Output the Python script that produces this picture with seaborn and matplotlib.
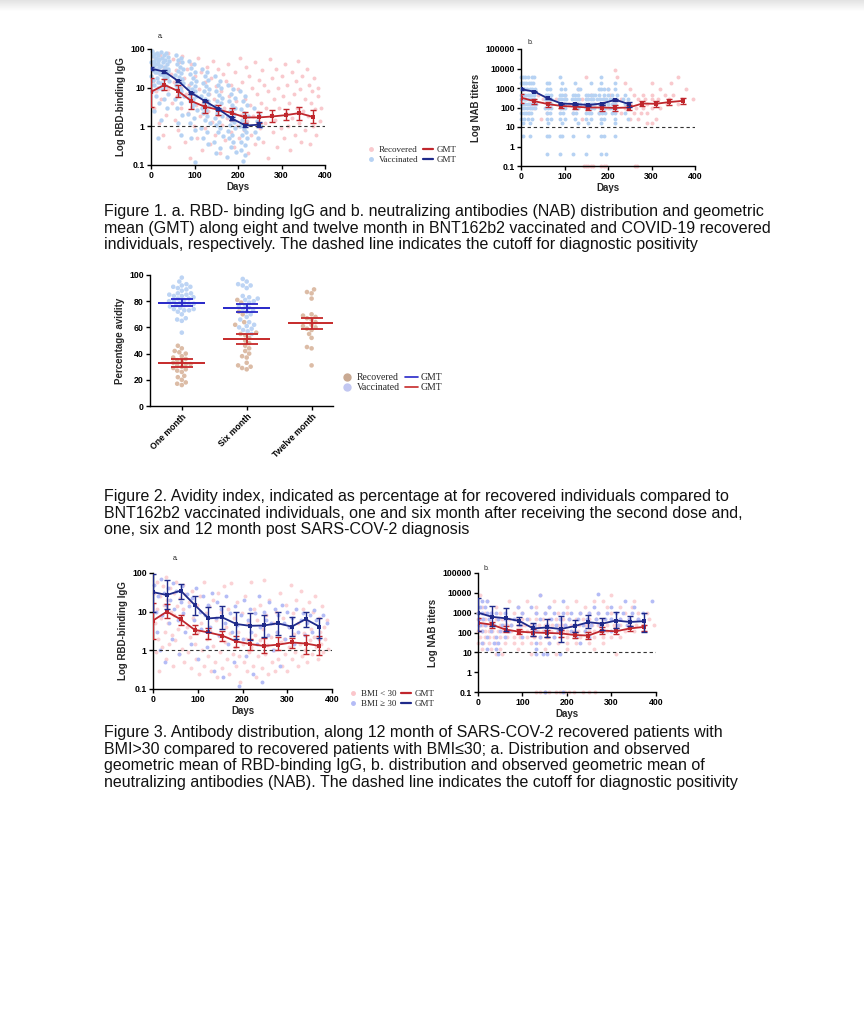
import numpy as np
import pandas as pd
import seaborn as sns
import matplotlib.pyplot as plt
from matplotlib.lines import Line2D
from matplotlib.ticker import NullLocator

# ---------------- data ----------------
visit_days = [0, 31, 62, 93, 124, 155, 186, 217, 248, 279, 310, 341, 372]

# Fig 1a - RBD-binding IgG, GMT with 95% CI
vac_igg_gmt = [31, 26, 15, 7.3, 4.5, 2.8, 1.6, 1.05, 1.1]
vac_igg_lo = [28, 24, 14, 6.8, 4.2, 2.6, 1.5, 0.98, 0.95]
vac_igg_hi = [34, 28, 16, 7.8, 4.8, 3.0, 1.7, 1.12, 1.3]
rec_igg_gmt = [7.8, 11.8, 8.2, 4.5, 3.2, 2.7, 2.2, 1.7, 1.7, 1.8, 1.95, 2.2, 1.75]
rec_igg_lo = [3.2, 8.5, 5.8, 2.8, 2.2, 2.0, 1.5, 1.2, 1.2, 1.3, 1.5, 1.5, 1.2]
rec_igg_hi = [17.5, 17, 12, 7, 4.6, 3.6, 3.0, 2.4, 2.4, 2.6, 2.8, 3.2, 2.7]

# Fig 1a - individual vaccinated samples, grouped by sampling visit
vac_igg_visits = [10, 32, 65, 95, 125, 155, 185, 213, 245]
vac_igg_values = [
    [90, 80, 75, 70, 65, 60, 55, 50, 48, 45, 42, 40, 38, 35, 33, 30, 28, 26, 25, 22, 20, 18, 16, 14, 12, 10, 8, 6, 4, 2.5, 0.5],
    [85, 78, 70, 62, 58, 52, 48, 45, 40, 37, 34, 31, 29, 27, 25, 23, 21, 19, 17, 15, 13, 11, 9, 7, 5, 3, 1.5],
    [70, 60, 52, 45, 40, 35, 30, 27, 24, 21, 19, 17, 15, 13, 12, 10, 9, 8, 7, 6, 5, 4, 3, 2, 1.2, 0.6],
    [50, 40, 32, 26, 22, 18, 15, 13, 11, 10, 9, 8, 7, 6, 5.5, 5, 4.4, 3.8, 3.2, 2.6, 2.1, 1.6, 1.2, 0.8, 0.5, 0.12],
    [30, 25, 20, 16, 13, 11, 9, 8, 7, 6, 5.2, 4.6, 4, 3.5, 3, 2.6, 2.2, 1.8, 1.5, 1.2, 0.9, 0.7, 0.5, 0.35],
    [20, 15, 12, 10, 8, 6.5, 5.5, 4.6, 4, 3.4, 3, 2.6, 2.2, 1.9, 1.6, 1.3, 1.1, 0.9, 0.7, 0.55, 0.4, 0.28, 0.2],
    [12, 9, 7, 5.5, 4.5, 3.6, 3, 2.5, 2.1, 1.8, 1.5, 1.3, 1.1, 0.9, 0.75, 0.6, 0.5, 0.4, 0.3, 0.22, 0.16],
    [8, 6, 4.5, 3.5, 2.8, 2.2, 1.8, 1.5, 1.2, 1, 0.85, 0.7, 0.6, 0.5, 0.4, 0.32, 0.25, 0.18, 0.13],
    [3, 2, 1.4, 1, 0.7, 0.5],
]
jitter = [-8, 3, -2, 7, -6, 1, 9, -4, 5, -9, 0, 6, -3, 8, -7, 2, -5, 4, -1, 10, -10, 3, -6, 7, -2, 5, -8, 1, 9, -4, 6]

# Fig 1a - individual recovered samples (day, IgG)
rec_igg_points = [
    (2, 40), (5, 15), (8, 3), (10, 60), (12, 8), (15, 25), (18, 1.2), (20, 70), (22, 5), (25, 12), (28, 0.6), (30, 35),
    (33, 18), (35, 2), (38, 80), (40, 9), (42, 0.3), (45, 22), (48, 4), (50, 55), (52, 14), (55, 1.5), (58, 28), (60, 6),
    (63, 0.8), (65, 45), (68, 10), (70, 3), (72, 65), (75, 18), (78, 0.4), (80, 7), (82, 30), (85, 2.2), (88, 12), (90, 0.15),
    (92, 40), (95, 5), (98, 1), (100, 20), (103, 3.5), (105, 0.5), (108, 60), (110, 9), (113, 1.8), (115, 25), (118, 0.25),
    (120, 4), (123, 14), (125, 0.9), (128, 35), (130, 2.5), (133, 7), (135, 0.35), (138, 18), (140, 1.3), (143, 50), (145, 5),
    (148, 0.6), (150, 11), (153, 2), (155, 30), (158, 0.2), (160, 8), (163, 1.1), (165, 22), (168, 3), (170, 0.45), (173, 15),
    (175, 1.6), (178, 40), (180, 6), (183, 0.7), (185, 12), (188, 2.8), (190, 0.3), (193, 25), (195, 4.5), (198, 1), (200, 9),
    (203, 0.5), (205, 60), (208, 2), (210, 14), (213, 0.8), (215, 5), (218, 35), (220, 1.4), (223, 0.2), (225, 20), (228, 3.5),
    (230, 0.6), (233, 10), (235, 1.8), (238, 45), (240, 0.35), (243, 7), (245, 2.4), (248, 16), (250, 0.9), (253, 4), (255, 28),
    (258, 0.4), (260, 12), (263, 1.2), (265, 3), (268, 0.15), (270, 8), (273, 55), (275, 2), (278, 18), (280, 0.7), (283, 5),
    (285, 1.5), (288, 30), (290, 0.3), (293, 10), (295, 3), (298, 0.9), (300, 20), (303, 6), (305, 0.5), (308, 40), (310, 2.2),
    (313, 12), (315, 1), (318, 4), (320, 0.25), (323, 25), (325, 1.6), (328, 7), (330, 0.6), (333, 15), (335, 3), (338, 50),
    (340, 1.2), (343, 9), (345, 0.4), (348, 20), (350, 2.5), (353, 5), (355, 0.8), (358, 30), (360, 1.8), (363, 12), (365, 0.35),
    (368, 4), (370, 8), (373, 1), (375, 18), (378, 2.8), (380, 0.6), (383, 6), (385, 10), (388, 1.4), (390, 3),
]

# Fig 1b - neutralizing antibodies, GMT with 95% CI
vac_nab_gmt = [870, 650, 290, 160, 150, 135, 160, 250, 150]
vac_nab_lo = [780, 590, 260, 145, 135, 120, 140, 225, 110]
vac_nab_hi = [960, 720, 320, 175, 165, 150, 180, 275, 190]
rec_nab_gmt = [320, 210, 150, 120, 110, 100, 100, 95, 100, 160, 155, 190, 220]
rec_nab_lo = [170, 150, 110, 90, 80, 72, 70, 70, 72, 120, 110, 140, 160]
rec_nab_hi = [500, 280, 200, 160, 150, 140, 140, 130, 140, 220, 215, 260, 300]

# Fig 1b - individual titers (titer level, sampling days)
vac_nab_rows = [
    (3600, [0, 5, 10, 15, 25, 30, 90, 185]),
    (1900, [0, 3, 8, 12, 18, 22, 28, 60, 65, 95, 125, 160, 185, 215]),
    (900, [0, 4, 9, 14, 20, 26, 32, 60, 66, 92, 100, 130, 135, 180, 185, 190, 200, 215]),
    (450, [0, 5, 10, 15, 20, 25, 30, 58, 62, 68, 90, 95, 100, 120, 125, 130, 150, 155, 160, 165, 170, 180, 190, 200, 210, 220, 240]),
    (270, [0, 6, 12, 18, 24, 30, 55, 60, 65, 70, 88, 93, 98, 103, 118, 123, 128, 133, 150, 155, 160, 165, 175, 182, 188, 195, 205, 212, 218, 235, 245]),
    (150, [0, 5, 10, 15, 20, 25, 30, 35, 60, 65, 70, 90, 95, 100, 120, 125, 130, 135, 148, 153, 158, 163, 168, 180, 185, 190, 200, 210, 215, 240, 248]),
    (90, [2, 8, 14, 20, 26, 32, 55, 62, 68, 92, 97, 102, 122, 127, 132, 150, 156, 162, 168, 182, 188, 194, 205, 212, 218, 245]),
    (50, [0, 6, 12, 18, 24, 60, 66, 90, 96, 120, 126, 150, 156, 162, 180, 186, 192, 210, 216, 240]),
    (27, [0, 8, 15, 25, 60, 70, 90, 100, 125, 150, 160, 185, 190, 215, 245]),
    (16, [5, 20, 62, 95, 130, 155, 185, 215]),
    (3.3, [5, 20, 60, 65, 90, 95, 120, 155, 185, 190, 215]),
    (0.4, [60, 90, 120, 150, 185, 195]),
]
rec_nab_rows = [
    (8000, [215]),
    (3600, [150, 220, 360]),
    (1900, [240, 300, 345]),
    (900, [130, 200, 250, 320, 380]),
    (450, [40, 100, 160, 205, 260, 280, 300, 330, 350]),
    (270, [10, 50, 80, 140, 190, 230, 270, 285, 300, 315, 340, 370, 395]),
    (150, [20, 70, 110, 170, 215, 250, 275, 290, 310, 335, 360]),
    (90, [30, 90, 130, 160, 200, 240, 265, 280, 300, 320]),
    (50, [15, 60, 120, 180, 230, 260, 275, 290]),
    (27, [45, 140, 250, 270, 310]),
    (16, [290, 300]),
    (0.1, [145, 150, 155, 160, 165, 185, 190, 195, 262, 266]),
]

# Fig 2 - avidity (%)
avidity_times = ['One month', 'Six month', 'Twelve month']
vac_avid_1m = [98, 95, 93, 92, 91, 91, 90, 89, 88, 86, 86, 85, 85, 84, 84, 83, 82, 82, 81, 80, 80, 79, 78, 78, 77,
               77, 76, 75, 74, 74, 73, 73, 72, 70, 67, 66, 65, 56]
vac_avid_6m = [97, 95, 93, 92, 92, 90, 84, 83, 82, 81, 80, 79, 77, 76, 75, 74, 73, 72, 70, 68, 66, 64, 62, 61, 60,
               59, 58, 57, 55]
rec_avid_1m = [46, 44, 42, 41, 40, 38, 37, 36, 35, 34, 33, 32, 32, 31, 30, 29, 28, 27, 26, 23, 22, 20, 18, 17, 16]
rec_avid_6m = [81, 79, 72, 70, 64, 62, 56, 55, 54, 52, 50, 48, 46, 44, 42, 40, 38, 37, 33, 31, 30, 29, 28]
rec_avid_12m = [89, 87, 86, 82, 70, 69, 68, 67, 66, 64, 62, 61, 60, 59, 58, 55, 52, 45, 44, 31]
vac_avid_mean = [79, 75]
vac_avid_lo = [76, 72]
vac_avid_hi = [82, 78]
rec_avid_mean = [33, 51, 63]
rec_avid_lo = [30, 47, 59]
rec_avid_hi = [36, 55, 67]

# Fig 3a - IgG by BMI, GMT with 95% CI
bmihi_igg_gmt = [32, 27, 35, 15, 6.7, 7.1, 4.8, 4.3, 4.4, 5.0, 4.1, 6.4, 4.1]
bmihi_igg_lo = [10, 11.5, 21, 8, 3, 3.5, 2, 1.9, 2.2, 2.5, 2.3, 4, 2.1]
bmihi_igg_hi = [96, 64, 53, 26, 13, 14, 10, 9, 8.2, 9.6, 7.4, 10, 7]
bmilo_igg_gmt = [5.9, 10, 6.3, 3.4, 2.9, 2.4, 1.7, 1.45, 1.3, 1.4, 1.6, 1.5, 1.3]
bmilo_igg_lo = [2, 6.7, 4.6, 2.7, 1.95, 1.7, 1.2, 1.0, 0.85, 1.0, 1.15, 0.82, 0.74]
bmilo_igg_hi = [17, 16, 8.2, 4.6, 3.8, 3.2, 2.3, 2.0, 2.1, 2.2, 2.1, 2.5, 2.3]

bmilo_igg_points = [
    (2, 30), (4, 5), (6, 0.9), (8, 60), (10, 12), (12, 2), (14, 0.3), (16, 25), (18, 7), (20, 1.2), (22, 45), (24, 15),
    (26, 3), (28, 0.6), (30, 80), (32, 20), (34, 5), (36, 1.5), (38, 40), (40, 10), (42, 2.5), (44, 0.4), (46, 30), (48, 8),
    (50, 1.8), (52, 60), (54, 14), (56, 3.5), (58, 0.8), (60, 22), (62, 6), (64, 1.1), (66, 50), (68, 12), (70, 0.5), (72, 28),
    (75, 4), (78, 0.9), (80, 18), (83, 2.2), (85, 0.35), (88, 35), (90, 7), (93, 1.5), (95, 0.6), (98, 15), (100, 3), (103, 0.25),
    (105, 25), (108, 5), (110, 1), (113, 0.4), (115, 60), (118, 9), (120, 2), (123, 0.7), (125, 14), (128, 3.2), (130, 0.3),
    (133, 20), (135, 1.3), (138, 0.5), (140, 6), (143, 0.2), (145, 30), (148, 2.4), (150, 0.9), (153, 10), (155, 0.35),
    (158, 45), (160, 1.6), (163, 4), (165, 0.6), (168, 12), (170, 0.25), (173, 2.8), (175, 55), (178, 0.8), (180, 7),
    (183, 1.2), (185, 0.4), (188, 18), (190, 3), (193, 0.7), (195, 0.15), (198, 9), (200, 1.5), (203, 0.5), (205, 25), (208, 2),
    (210, 0.3), (213, 5), (215, 0.9), (218, 60), (220, 1.2), (223, 0.4), (225, 12), (228, 2.5), (230, 0.2), (233, 6),
    (235, 0.7), (238, 1.8), (240, 15), (243, 0.35), (245, 3.5), (248, 65), (250, 0.8), (253, 8), (255, 1.4), (258, 0.25),
    (260, 20), (263, 2.2), (265, 0.5), (268, 5), (270, 1), (273, 0.3), (275, 10), (278, 3), (280, 0.6), (283, 30), (285, 1.6),
    (288, 0.4), (290, 7), (293, 2), (295, 0.8), (298, 15), (300, 0.3), (303, 4), (305, 1.2), (308, 50), (310, 0.6), (313, 9),
    (315, 2.6), (318, 0.9), (320, 20), (323, 0.4), (325, 5), (328, 1.5), (330, 35), (333, 0.7), (335, 12), (338, 2.8),
    (340, 1), (343, 6), (345, 0.5), (348, 18), (350, 1.8), (353, 3.5), (355, 0.8), (358, 10), (360, 2.2), (363, 25),
    (365, 1.2), (368, 0.6), (370, 7), (373, 3), (375, 1.5), (378, 14), (380, 0.9), (383, 4), (385, 2), (388, 6), (390, 1.1),
]
bmihi_igg_points = [
    (3, 50), (6, 10), (9, 3), (12, 25), (15, 1), (18, 70), (21, 8), (24, 30), (27, 0.5), (30, 15), (33, 40), (36, 5), (39, 20),
    (42, 2), (45, 55), (48, 12), (52, 35), (55, 6), (58, 0.8), (62, 18), (65, 45), (68, 9), (72, 3), (76, 28), (80, 14),
    (84, 1.5), (88, 22), (92, 6), (96, 40), (100, 0.6), (104, 10), (108, 3.5), (112, 25), (116, 8), (120, 1.2), (124, 15),
    (128, 4), (132, 30), (136, 0.3), (140, 7), (144, 18), (148, 2.5), (152, 12), (156, 0.2), (160, 5), (164, 25), (168, 1.5),
    (172, 9), (176, 3), (180, 0.5), (184, 14), (188, 4.5), (192, 0.12), (196, 8), (200, 2), (204, 20), (208, 0.7), (212, 6),
    (216, 12), (220, 3), (224, 0.25), (228, 9), (232, 1.5), (236, 25), (240, 4), (244, 0.15), (248, 10), (252, 6), (256, 2.5),
    (260, 18), (264, 5), (268, 1), (272, 12), (276, 3), (280, 8), (284, 0.4), (288, 15), (292, 5), (296, 2), (300, 10),
    (305, 4), (310, 7), (315, 1.5), (320, 12), (325, 3), (330, 6), (335, 9), (340, 2.5), (345, 5), (350, 8), (355, 3),
    (360, 11), (365, 6), (372, 2), (380, 8), (388, 5),
]

# Fig 3b - NAB by BMI
bmihi_nab_gmt = [1000, 620, 520, 380, 160, 180, 150, 210, 330, 280, 400, 340, 370]
bmihi_nab_lo = [125, 220, 115, 250, 65, 60, 33, 110, 160, 140, 170, 220, 110]
bmihi_nab_hi = [5800, 2100, 1800, 600, 310, 500, 680, 450, 760, 560, 1100, 650, 1000]
bmilo_nab_gmt = [310, 250, 140, 110, 100, 95, 90, 75, 70, 125, 115, 160, 190]
bmilo_nab_lo = [125, 175, 107, 80, 70, 56, 60, 50, 48, 85, 80, 117, 125]
bmilo_nab_hi = [560, 340, 220, 155, 150, 135, 140, 107, 107, 185, 170, 220, 250]

bmilo_nab_rows = [
    (8000, [5, 140, 300]),
    (4000, [20, 70, 110, 170, 220, 260, 280, 350]),
    (2000, [10, 40, 90, 130, 160, 200, 240, 290, 320, 345]),
    (1000, [0, 15, 30, 50, 80, 100, 130, 150, 180, 200, 230, 250, 270, 300, 330, 360, 380]),
    (500, [0, 8, 16, 24, 40, 55, 70, 85, 100, 115, 130, 145, 160, 175, 190, 205, 220, 235, 250, 265, 280, 300, 320, 340, 360, 385]),
    (250, [2, 10, 18, 26, 34, 50, 58, 66, 74, 90, 98, 106, 120, 128, 136, 150, 158, 166, 180, 188, 196, 210, 218, 226, 240,
           248, 256, 270, 278, 290, 305, 320, 340, 355, 370, 395]),
    (125, [0, 8, 16, 24, 32, 45, 55, 65, 75, 90, 100, 110, 125, 135, 145, 155, 165, 180, 190, 200, 215, 225, 240, 250, 260,
           275, 290, 310, 330, 350]),
    (60, [5, 15, 25, 35, 50, 65, 80, 95, 110, 125, 140, 155, 170, 185, 200, 215, 230, 245, 260, 280, 300, 320]),
    (30, [0, 12, 24, 40, 60, 80, 100, 120, 140, 160, 180, 200, 220, 250, 280]),
    (15, [10, 30, 50, 90, 150, 200, 260]),
    (8, [40, 55, 120, 175, 310]),
    (0.1, [130, 140, 150, 160, 175, 185, 195, 205, 215, 235, 250, 262]),
]
bmihi_nab_rows = [
    (9000, [270]),
    (8000, [140]),
    (4000, [10, 20, 190, 330, 390]),
    (2000, [5, 15, 90, 120, 160, 260, 300, 350]),
    (1000, [0, 10, 20, 30, 40, 60, 100, 130, 150, 170, 190, 210, 230, 250, 270, 290, 310, 325, 345, 370]),
    (500, [2, 12, 25, 45, 60, 80, 110, 140, 165, 185, 205, 225, 245, 265, 285, 300, 320, 340, 360]),
    (250, [5, 15, 35, 55, 75, 95, 125, 155, 175, 195, 215, 235, 255, 275, 315, 335]),
    (125, [10, 30, 50, 70, 130, 150, 180, 210, 240, 280, 300]),
    (60, [20, 40, 60, 100, 140, 170, 220, 250]),
    (30, [10, 35, 45, 130, 160, 230]),
    (15, [20, 40, 130]),
    (8, [45, 130, 145, 155, 185]),
    (0.1, [150, 190]),
]

caption1 = ("Figure 1. a. RBD- binding IgG and b. neutralizing antibodies (NAB) distribution and geometric\n"
            "mean (GMT) along eight and twelve month in BNT162b2 vaccinated and COVID-19 recovered\n"
            "individuals, respectively. The dashed line indicates the cutoff for diagnostic positivity")
caption2 = ("Figure 2. Avidity index, indicated as percentage at for recovered individuals compared to\n"
            "BNT162b2 vaccinated individuals, one and six month after receiving the second dose and,\n"
            "one, six and 12 month post SARS-COV-2 diagnosis")
caption3 = ("Figure 3. Antibody distribution, along 12 month of SARS-COV-2 recovered patients with\n"
            "BMI>30 compared to recovered patients with BMI\u226430; a. Distribution and observed\n"
            "geometric mean of RBD-binding IgG, b. distribution and observed geometric mean of\n"
            "neutralizing antibodies (NAB). The dashed line indicates the cutoff for diagnostic positivity")

# ---------------- style ----------------
sns.set_theme(style="ticks")
plt.rcParams['font.family'] = ['Liberation Sans', 'DejaVu Sans']
plt.rcParams['axes.linewidth'] = 1.0

RED = '#c0272d'
NAVY = '#1f2a8a'
PINK = '#f9c9cd'
LBLUE = '#b6d2f3'
LAV = '#b4bcf6'
SERIF = ['Liberation Serif', 'DejaVu Serif']

W, H = 864, 1024


def box(l, t, r, b):
    return [l / W, 1 - b / H, (r - l) / W, (b - t) / H]


def rows_to_xy(rows):
    xs = [d for lvl, ds in rows for d in ds]
    ys = [lvl for lvl, ds in rows for d in ds]
    return xs, ys


def finish_axis(ax, ylabel):
    sns.despine(ax=ax)
    ax.tick_params(direction='out', length=3, width=1, labelsize=6.3, pad=1.5, colors='black')
    for lab in ax.get_xticklabels() + ax.get_yticklabels():
        lab.set_fontweight('bold')
    ax.set_ylabel(ylabel, fontsize=7, fontweight='bold', labelpad=3)
    for s in ax.spines.values():
        s.set_color('black')


def log_panel(ax, ymax, yticks, ylabel, cutoff):
    ax.set_yscale('log')
    ax.set_ylim(0.1, ymax)
    ax.set_xlim(0, 400)
    ax.set_xticks([0, 100, 200, 300, 400])
    ax.set_yticks(yticks)
    ax.set_yticklabels([f'{t:g}' for t in yticks])
    ax.yaxis.set_minor_locator(NullLocator())
    ax.axhline(cutoff, color='#333333', lw=0.8, ls=(0, (3, 2.5)), zorder=2)
    ax.set_xlabel('Days', fontsize=7, fontweight='bold', labelpad=1)
    finish_axis(ax, ylabel)


def cloud(ax, xs, ys, color, s=8):
    sns.scatterplot(x=xs, y=ys, color=color, s=s, linewidth=0, ax=ax, legend=False, zorder=1, clip_on=False)


def gmt_line(ax, g, lo, hi, color, cap=2):
    d = visit_days[:len(g)]
    sns.lineplot(x=d, y=g, color=color, lw=1.3, marker='s', markersize=2.6, markeredgewidth=0,
                 ax=ax, zorder=4, errorbar=None)
    ax.errorbar(d, g, yerr=[np.subtract(g, lo), np.subtract(hi, g)], fmt='none', ecolor=color,
                elinewidth=1, capsize=cap, capthick=1, zorder=4)


def legend(handles, labels, x, y, size=6.5, hl=1.1):
    fig.legend(handles, labels, loc='upper left', bbox_to_anchor=(x / W, 1 - y / H), ncol=2, frameon=False,
               prop={'family': SERIF, 'size': size}, handlelength=hl, handletextpad=0.35,
               columnspacing=0.5, labelspacing=0.12, borderpad=0, borderaxespad=0)


def caption(text, top):
    fig.text(104 / W, 1 - top / H, text, fontsize=11.5, va='top', linespacing=1.14, color='#111111')


fig = plt.figure(figsize=(8.64, 10.24), dpi=100)

# page top shading
bar = fig.add_axes([0, 1 - 12 / H, 1, 12 / H])
bar.imshow(np.linspace(0.89, 1.0, 12).reshape(-1, 1), cmap='gray', vmin=0, vmax=1, aspect='auto')
bar.axis('off')

# ---------- Figure 1a ----------
ax = fig.add_axes(box(151, 49, 325, 165))
vx = [d + jitter[i % len(jitter)] for d, vals in zip(vac_igg_visits, vac_igg_values) for i, v in enumerate(vals)]
vy = [v for vals in vac_igg_values for v in vals]
cloud(ax, [p[0] for p in rec_igg_points], [p[1] for p in rec_igg_points], PINK)
cloud(ax, vx, vy, LBLUE, s=10)
gmt_line(ax, rec_igg_gmt, rec_igg_lo, rec_igg_hi, RED)
gmt_line(ax, vac_igg_gmt, vac_igg_lo, vac_igg_hi, NAVY)
log_panel(ax, 100, [0.1, 1, 10, 100], 'Log RBD-binding IgG', 1)
fig.text(158 / W, 1 - 38 / H, 'a.', fontsize=5)
legend([Line2D([], [], ls='', marker='o', ms=2.5, color=PINK),
        Line2D([], [], ls='', marker='o', ms=2.5, color=LBLUE),
        Line2D([], [], color=RED, lw=1.6), Line2D([], [], color=NAVY, lw=1.6)],
       ['Recovered', 'Vaccinated', 'GMT', 'GMT'], 366, 146)

# ---------- Figure 1b ----------
ax = fig.add_axes(box(521, 49, 695, 166))
rx, ry = rows_to_xy(rec_nab_rows)
bx, by = rows_to_xy(vac_nab_rows)
cloud(ax, rx, ry, PINK)
cloud(ax, bx, by, LBLUE)
gmt_line(ax, rec_nab_gmt, rec_nab_lo, rec_nab_hi, RED)
gmt_line(ax, vac_nab_gmt, vac_nab_lo, vac_nab_hi, NAVY)
log_panel(ax, 100000, [0.1, 1, 10, 100, 1000, 10000, 100000], 'Log NAB titers', 10)
fig.text(528 / W, 1 - 44 / H, 'b.', fontsize=5)

caption(caption1, 204)

# ---------- Figure 2 ----------
ax = fig.add_axes(box(150, 275, 333, 406))
avid = pd.DataFrame({
    'time': ['One month'] * len(vac_avid_1m) + ['Six month'] * len(vac_avid_6m)
            + ['One month'] * len(rec_avid_1m) + ['Six month'] * len(rec_avid_6m)
            + ['Twelve month'] * len(rec_avid_12m),
    'avidity': vac_avid_1m + vac_avid_6m + rec_avid_1m + rec_avid_6m + rec_avid_12m,
    'group': ['Vaccinated'] * (len(vac_avid_1m) + len(vac_avid_6m))
             + ['Recovered'] * (len(rec_avid_1m) + len(rec_avid_6m) + len(rec_avid_12m)),
})
sns.swarmplot(data=avid, x='time', y='avidity', hue='group', order=avidity_times,
              hue_order=['Recovered', 'Vaccinated'],
              palette={'Recovered': '#dcbca6', 'Vaccinated': '#bdd4f4'},
              size=3.3, linewidth=0, ax=ax, legend=False, zorder=1, warn_thresh=1)
for i, m in enumerate(vac_avid_mean):
    ax.hlines(m, i - 0.36, i + 0.36, color='#2727c8', lw=1.4, zorder=4)
    ax.errorbar(i, m, yerr=[[m - vac_avid_lo[i]], [vac_avid_hi[i] - m]], fmt='none', ecolor='#2727c8',
                elinewidth=1.3, capsize=8, capthick=1.3, zorder=4)
for i, m in enumerate(rec_avid_mean):
    ax.hlines(m, i - 0.36, i + 0.36, color='#c62a2a', lw=1.4, zorder=4)
    ax.errorbar(i, m, yerr=[[m - rec_avid_lo[i]], [rec_avid_hi[i] - m]], fmt='none', ecolor='#c62a2a',
                elinewidth=1.3, capsize=8, capthick=1.3, zorder=4)
ax.set_xlim(-0.49, 2.33)
ax.set_ylim(0, 100)
ax.set_yticks([0, 20, 40, 60, 80, 100])
ax.set_xlabel('')
ax.set_xticks([0, 1, 2])
ax.set_xticklabels(avidity_times, rotation=45, ha='right', rotation_mode='anchor')
finish_axis(ax, 'Percentage avidity')
legend([Line2D([], [], ls='', marker='o', ms=5, color='#c9a992'),
        Line2D([], [], ls='', marker='o', ms=5, color='#c2c7f1'),
        Line2D([], [], color='#2727c8', lw=1.2), Line2D([], [], color='#c62a2a', lw=1.2)],
       ['Recovered', 'Vaccinated', 'GMT', 'GMT'], 341, 373, size=7, hl=1.3)

caption(caption2, 489)

# ---------- Figure 3a ----------
ax = fig.add_axes(box(153, 573, 332, 689))
cloud(ax, [p[0] for p in bmilo_igg_points], [p[1] for p in bmilo_igg_points], '#fbd2d5')
cloud(ax, [p[0] for p in bmihi_igg_points], [p[1] for p in bmihi_igg_points], LAV)
gmt_line(ax, bmilo_igg_gmt, bmilo_igg_lo, bmilo_igg_hi, RED)
gmt_line(ax, bmihi_igg_gmt, bmihi_igg_lo, bmihi_igg_hi, NAVY)
log_panel(ax, 100, [0.1, 1, 10, 100], 'Log RBD-binding IgG', 1)
fig.text(173 / W, 1 - 560 / H, 'a.', fontsize=5)
legend([Line2D([], [], ls='', marker='o', ms=2.5, color='#fbc6cb'),
        Line2D([], [], ls='', marker='o', ms=2.5, color=LAV),
        Line2D([], [], color=RED, lw=1.6), Line2D([], [], color=NAVY, lw=1.6)],
       ['BMI < 30', 'BMI \u2265 30', 'GMT', 'GMT'], 348, 690)

# ---------- Figure 3b ----------
ax = fig.add_axes(box(478, 573, 656, 692))
rx, ry = rows_to_xy(bmilo_nab_rows)
bx, by = rows_to_xy(bmihi_nab_rows)
cloud(ax, rx, ry, '#fbd2d5')
cloud(ax, bx, by, LAV)
gmt_line(ax, bmilo_nab_gmt, bmilo_nab_lo, bmilo_nab_hi, RED)
gmt_line(ax, bmihi_nab_gmt, bmihi_nab_lo, bmihi_nab_hi, NAVY)
log_panel(ax, 100000, [0.1, 1, 10, 100, 1000, 10000, 100000], 'Log NAB titers', 10)
fig.text(484 / W, 1 - 570 / H, 'b.', fontsize=5)

caption(caption3, 725)

fig.savefig('out.png', dpi=100)
